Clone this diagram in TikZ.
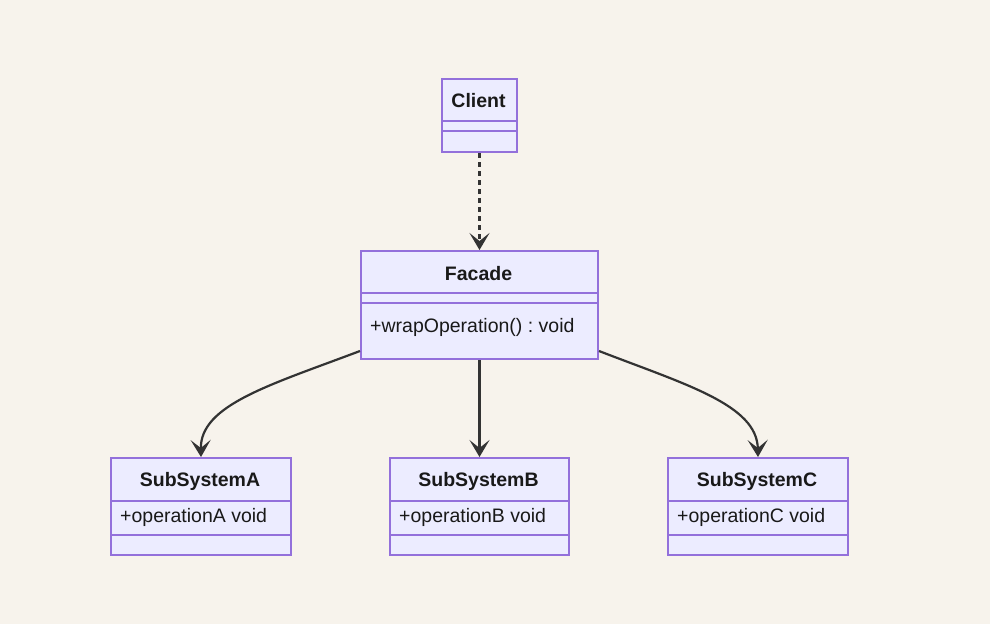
\documentclass[tikz,border=0pt]{standalone}
\usepackage{fontspec}
\setmainfont{Liberation Sans}
\usetikzlibrary{arrows.meta}
\definecolor{bg}{HTML}{F7F3EC}
\definecolor{boxfill}{HTML}{ECECFF}
\definecolor{boxline}{HTML}{9370DB}
\definecolor{edge}{HTML}{333333}
\frenchspacing
\tikzset{
  umlbox/.style={draw=boxline, fill=boxfill, line width=2pt, inner sep=0pt, anchor=north west},
  divider/.style={draw=boxline, line width=2pt},
  title/.style={font=\fontsize{19.5}{22}\selectfont\bfseries, text=black!90, inner sep=0pt},
  member/.style={font=\fontsize{19.5}{22}\selectfont\frenchspacing, text=black!90, inner sep=0pt, anchor=west},
  conn/.style={draw=edge, line width=2.2pt, -{Stealth[length=17pt,width=20pt,inset=8pt]}},
}
\begin{document}
\begin{tikzpicture}[x=1pt,y=-1pt]
\path[fill=bg] (0,0) rectangle (990,624);
\useasboundingbox (0,0) rectangle (990,624);

% Client
\node[umlbox, minimum width=75pt, minimum height=73pt] (client) at (441,78) {};
\draw[divider] (441,121) -- (516,121);
\draw[divider] (441,131) -- (516,131);
\node[title] (clientT) at (478.5,101) {Client};

% Facade
\node[umlbox, minimum width=237pt, minimum height=108pt] (facade) at (360,250) {};
\draw[divider] (360,293) -- (597,293);
\draw[divider] (360,303) -- (597,303);
\node[title] (facadeT) at (478.5,274) {Facade};
\node[member] (facadeM) at (370,327) {+wrapOperation() : void};

% SubSystemA
\node[umlbox, minimum width=180pt, minimum height=97pt] (subA) at (110,457) {};
\draw[divider] (110,501) -- (290,501);
\draw[divider] (110,535) -- (290,535);
\node[title] (subAT) at (200,481) {SubSystemA};
\node[member] (subAM) at (120,517) {+operationA void};

% SubSystemB
\node[umlbox, minimum width=179pt, minimum height=97pt] (subB) at (389,457) {};
\draw[divider] (389,501) -- (568,501);
\draw[divider] (389,535) -- (568,535);
\node[title] (subBT) at (478.5,481) {SubSystemB};
\node[member] (subBM) at (399,517) {+operationB void};

% SubSystemC
\node[umlbox, minimum width=180pt, minimum height=97pt] (subC) at (667,457) {};
\draw[divider] (667,501) -- (847,501);
\draw[divider] (667,535) -- (847,535);
\node[title] (subCT) at (757,481) {SubSystemC};
\node[member] (subCM) at (677,517) {+operationC void};

% connectors
\draw[conn, dashed, dash pattern=on 5pt off 4pt] (client.south) -- (facade.north);
\draw[conn] (facade.south) -- (subB.north);
\draw[conn] ([yshift=9pt]facade.south west) .. controls (270,385) and (200,405) .. (subA.north);
\draw[conn] ([yshift=9pt]facade.south east) .. controls (687,385) and (757,405) .. (subC.north);
\end{tikzpicture}
\end{document}
